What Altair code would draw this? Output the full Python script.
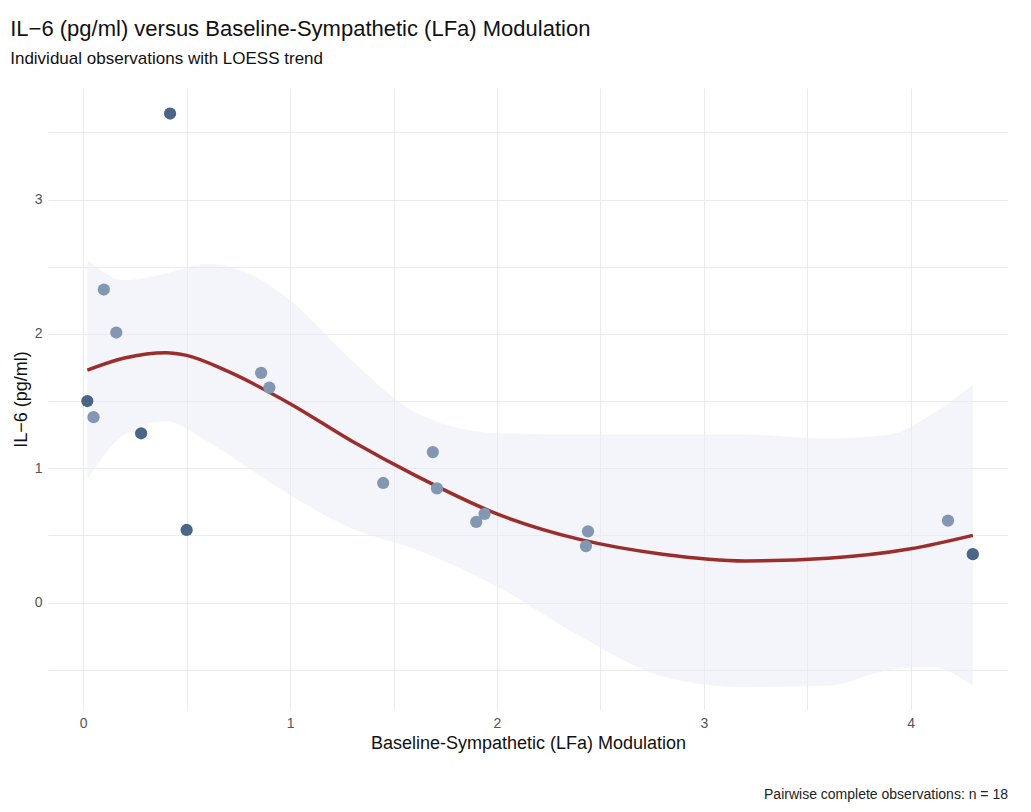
import altair as alt
import pandas as pd

# observations
obs_x = [0.02, 0.05, 0.10, 0.16, 0.28, 0.42, 0.50, 0.86, 0.90, 1.45, 1.69, 1.71, 1.90, 1.94, 2.43, 2.44, 4.18, 4.30]
obs_y = [1.50, 1.38, 2.33, 2.01, 1.26, 3.64, 0.54, 1.71, 1.60, 0.89, 1.12, 0.85, 0.60, 0.66, 0.42, 0.53, 0.61, 0.36]
obs_dark = [1, 0, 0, 0, 1, 1, 1, 0, 0, 0, 0, 0, 0, 0, 0, 0, 0, 1]

# loess trend
fit_x = [0.02, 0.2, 0.4, 0.5, 0.7, 1.0, 1.3, 1.6, 2.0, 2.4, 2.8, 3.2, 3.6, 4.0, 4.3]
fit_y = [1.73, 1.82, 1.86, 1.84, 1.72, 1.48, 1.20, 0.95, 0.66, 0.47, 0.36, 0.31, 0.33, 0.40, 0.50]
band_x = [0.02, 0.2, 0.4, 0.6, 0.8, 1.0, 1.3, 1.6, 2.0, 2.4, 2.8, 3.2, 3.6, 3.9, 4.1, 4.3]
band_hi = [2.55, 2.40, 2.45, 2.52, 2.45, 2.25, 1.80, 1.42, 1.26, 1.25, 1.25, 1.25, 1.22, 1.25, 1.40, 1.62]
band_lo = [0.92, 1.25, 1.35, 1.20, 1.00, 0.80, 0.55, 0.40, 0.12, -0.25, -0.55, -0.63, -0.62, -0.50, -0.48, -0.62]

pts = pd.DataFrame({"x": obs_x, "y": obs_y, "dark": obs_dark})
fit = pd.DataFrame({"x": fit_x, "y": fit_y})
band = pd.DataFrame({"x": band_x, "lo": band_lo, "hi": band_hi})

W, H = 960, 622
xs = alt.Scale(domain=[-0.17, 4.47], nice=False, zero=False)
ys = alt.Scale(domain=[-0.80, 3.83], nice=False, zero=False)
xax = alt.Axis(values=[0, 0.5, 1, 1.5, 2, 2.5, 3, 3.5, 4],
               labelExpr="datum.value % 1 == 0 ? format(datum.value, 'd') : ''")
yax = alt.Axis(values=[-0.5, 0, 0.5, 1, 1.5, 2, 2.5, 3, 3.5],
               labelExpr="datum.value % 1 == 0 ? format(datum.value, 'd') : ''")

ribbon = alt.Chart(band).mark_area(color="#e8ebf5", opacity=0.5, interpolate="monotone").encode(
    x=alt.X("x:Q", scale=xs, axis=xax, title="Baseline-Sympathetic (LFa) Modulation"),
    y=alt.Y("lo:Q", scale=ys, axis=yax, title="IL−6 (pg/ml)"),
    y2="hi:Q",
)
line = alt.Chart(fit).mark_line(color="#9b2d2a", strokeWidth=3.5, interpolate="monotone").encode(
    x=alt.X("x:Q", scale=xs), y=alt.Y("y:Q", scale=ys)
)
dots = alt.Chart(pts).mark_circle(size=150, opacity=1).encode(
    x=alt.X("x:Q", scale=xs), y=alt.Y("y:Q", scale=ys),
    color=alt.Color("dark:N", scale=alt.Scale(domain=[0, 1], range=["#8497b2", "#4a6587"]), legend=None),
)
caption = alt.Chart(pd.DataFrame({"t": ["Pairwise complete observations: n = 18"]})).mark_text(
    align="right", baseline="bottom", fontSize=14, font="Liberation Sans", color="#222"
).encode(x=alt.value(W), y=alt.value(H + 92), text="t:N")

chart = alt.layer(ribbon, line, dots, caption).properties(
    width=W, height=H,
    title=alt.TitleParams("IL−6 (pg/ml) versus Baseline-Sympathetic (LFa) Modulation",
                          subtitle="Individual observations with LOESS trend",
                          anchor="start", fontSize=22, fontWeight="normal", subtitleFontSize=17,
                          font="Liberation Sans", subtitleFont="Liberation Sans",
                          color="#111", subtitleColor="#111", offset=20, subtitlePadding=10, dx=-2),
    padding={"left": 2, "top": 10, "right": 0, "bottom": 30},
).configure_view(stroke=None).configure_axis(
    grid=True, gridColor="#ebebeb", domain=False, ticks=False,
    labelFont="Liberation Sans", labelFontSize=14, labelColor="#555", labelPadding=6,
    titleFont="Liberation Sans", titleFontSize=18, titleFontWeight="normal", titleColor="#111",
)

chart.save("out.html", embed_options={"renderer": "svg", "actions": False})
